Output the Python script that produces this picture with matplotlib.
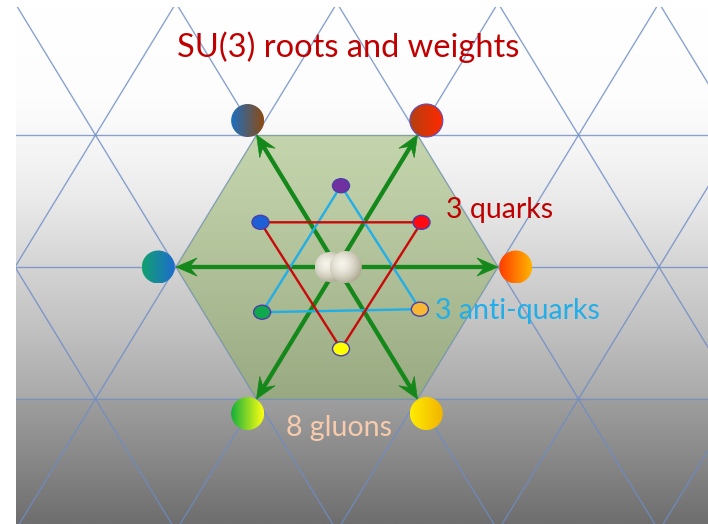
import numpy as np
import matplotlib
matplotlib.use("Agg")
import matplotlib.pyplot as plt
from matplotlib.patches import Polygon, Circle, Ellipse, Rectangle
from matplotlib.colors import to_rgb

# ---------------- data ----------------
title = "SU(3) roots and weights"
roots = [(1.0, 0.0), (0.5, 0.866), (-0.5, 0.866), (-1.0, 0.0), (-0.5, -0.866), (0.5, -0.866)]
gluon_colors = [("#ff3c00", "#ffb400"), ("#b4400f", "#ff2800"), ("#1c6fc0", "#8c4a14"),
                ("#12a070", "#1c6cd0"), ("#14b03c", "#ffff10"), ("#ffec00", "#f2b400")]
gluon_offset = 1.11          # gluon marker sits just outside its root tip
cartan_gluons = [(-0.045, 0.0), (0.055, 0.0)]
cartan_radius = [15, 16]
quark_weights = [(-0.5, 0.29), (0.5, 0.29), (0.0, -0.54)]
quark_colors = ["#1f5fd6", "#ff0a10", "#ffff00"]
antiquark_weights = [(0.0, 0.53), (-0.49, -0.30), (0.49, -0.28)]
antiquark_colors = ["#7030a0", "#10a84c", "#f7b733"]
label_quarks = "3 quarks"
label_antiquarks = "3 anti-quarks"
label_gluons = "8 gluons"

# ---------------- layout ----------------
W, H = 708, 524
SX, SY = 161.0, 152.4
ROOT_C = (337.0, 267.0)
WEIGHT_C = (341.0, 266.5)
FONT = ["Lato", "DejaVu Sans"]


def px(p, c=ROOT_C):
    return (c[0] + SX * p[0], c[1] - SY * p[1])


fig = plt.figure(figsize=(7.08, 5.24), dpi=100)
ax = fig.add_axes([0, 0, 1, 1])
ax.axis("off")

# background panel with vertical gradient
panel = Rectangle((16, 7), W - 16, H - 7, facecolor="none", edgecolor="none")
ax.add_patch(panel)
stops_y = [7, 100, 150, 200, 267, 330, 397, 402, 460, 524]
stops_g = [255, 253, 245, 234, 212, 193, 170, 158, 136, 110]
yy = np.linspace(7, H, 400)
g = np.interp(yy, stops_y, stops_g) / 255.0
bg = np.repeat(g[:, None, None], 3, axis=2)
ax.imshow(bg, extent=[16, W, H, 7], aspect="auto", zorder=0, interpolation="bilinear")

# triangular lattice (spacing given by the roots)
d1 = np.subtract(px(roots[1]), ROOT_C)
d2 = np.subtract(px(roots[2]), ROOT_C)
LC = "#6d8cc6"
for k in range(-2, 3):
    p0 = px((0, 0.866 * k))
    ln, = ax.plot([0, W], [p0[1], p0[1]], color=LC, lw=1.0, alpha=0.8, zorder=1)
    ln.set_clip_path(panel)
for j in range(-7, 8):
    p0 = np.array(px((j, 0)))
    for d in (d1, d2):
        a, b = p0 - 4 * d, p0 + 4 * d
        ln, = ax.plot([a[0], b[0]], [a[1], b[1]], color=LC, lw=1.0, alpha=0.8, zorder=1)
        ln.set_clip_path(panel)

# hexagon of roots
hexpts = [px(r) for r in roots]
ax.add_patch(Polygon(hexpts, closed=True, facecolor="#85a950", alpha=0.45,
                     edgecolor="none", zorder=2))

# weight triangles
q_px = [px(w, WEIGHT_C) for w in quark_weights]
a_px = [px(w, WEIGHT_C) for w in antiquark_weights]
ax.add_patch(Polygon(a_px, closed=True, fill=False, edgecolor="#22aee6", lw=1.7, zorder=4))
ax.add_patch(Polygon(q_px, closed=True, fill=False, edgecolor="#c80a0a", lw=1.7, zorder=4))

# root arrows (double headed through the origin)
ARC = "#14881a"


def head(tip, d, L=21, w=9):
    d = np.asarray(d) / np.linalg.norm(d)
    n = np.array([-d[1], d[0]])
    tip = np.asarray(tip)
    back = tip - d * L
    pts = [tip, back + n * w, tip - d * L * 0.62, back - n * w]
    ax.add_patch(Polygon(pts, closed=True, facecolor=ARC, edgecolor=ARC, lw=0.5, zorder=3.5))
    return tip - d * L * 0.62


for i in range(3):
    t1 = np.array(px(roots[i]))
    t2 = np.array(px(roots[i + 3]))
    e1 = head(t1, t1 - t2)
    e2 = head(t2, t2 - t1)
    ax.plot([e1[0], e2[0]], [e1[1], e2[1]], color=ARC, lw=3.1, solid_capstyle="butt", zorder=3.4)


def grad_circle(c, r, c1, c2, z, edge=None):
    circ = Circle(c, r, facecolor="none", edgecolor=edge if edge else "none", lw=0.8, zorder=z + 0.1)
    ax.add_patch(circ)
    t = np.linspace(0, 1, 64)
    cols = (1 - t)[:, None] * np.array(to_rgb(c1)) + t[:, None] * np.array(to_rgb(c2))
    im = ax.imshow(cols[None, :, :], extent=[c[0] - r, c[0] + r, c[1] + r, c[1] - r],
                   aspect="auto", zorder=z, interpolation="bilinear")
    im.set_clip_path(circ)


# gluons at the roots
for r, (c1, c2) in zip(roots, gluon_colors):
    c = px((r[0] * gluon_offset, r[1] * gluon_offset))
    edge = "#5a4fc0" if c2 == "#ff2800" else None
    grad_circle(c, 16.5, c1, c2, 5, edge)


# two Cartan gluons at the origin (pearl look)
def pearl(c, r, z):
    circ = Circle(c, r, facecolor="none", edgecolor="none", zorder=z)
    ax.add_patch(circ)
    n = 80
    xs = np.linspace(-1, 1, n)
    X, Y = np.meshgrid(xs, xs)
    D = np.sqrt((X + 0.25) ** 2 + (Y + 0.2) ** 2)
    t = np.clip(D / 1.35, 0, 1) ** 1.6
    light = np.array(to_rgb("#f5f3ea"))
    dark = np.array(to_rgb("#aaa58e"))
    img = (1 - t)[..., None] * light + t[..., None] * dark
    im = ax.imshow(img, extent=[c[0] - r, c[0] + r, c[1] + r, c[1] - r],
                   aspect="auto", zorder=z, interpolation="bilinear")
    im.set_clip_path(circ)


for k, (w, r) in enumerate(zip(cartan_gluons, cartan_radius)):
    pearl(px(w), r, 6 + k * 0.2)

# quark / antiquark dots
for p, col in zip(q_px + a_px, quark_colors + antiquark_colors):
    ax.add_patch(Ellipse(p, 17, 14, facecolor=col, edgecolor="#4a3fa8", lw=1.0, zorder=7))

# labels
ax.text(348, 57, title, color="#c00000", fontsize=23.5, family=FONT, ha="center", va="baseline", zorder=8)
ax.text(500, 218, label_quarks, color="#c00000", fontsize=20.5, family=FONT, ha="center", va="baseline", zorder=8)
ax.text(517.5, 319, label_antiquarks, color="#22aee8", fontsize=20.5, family=FONT, ha="center", va="baseline", zorder=8)
ax.text(339, 436, label_gluons, color="#f8cbad", fontsize=20.5, family=FONT, ha="center", va="baseline", zorder=8)

ax.set_xlim(0, W)
ax.set_ylim(H, 0)
fig.savefig("out.png", dpi=100, facecolor="white")
